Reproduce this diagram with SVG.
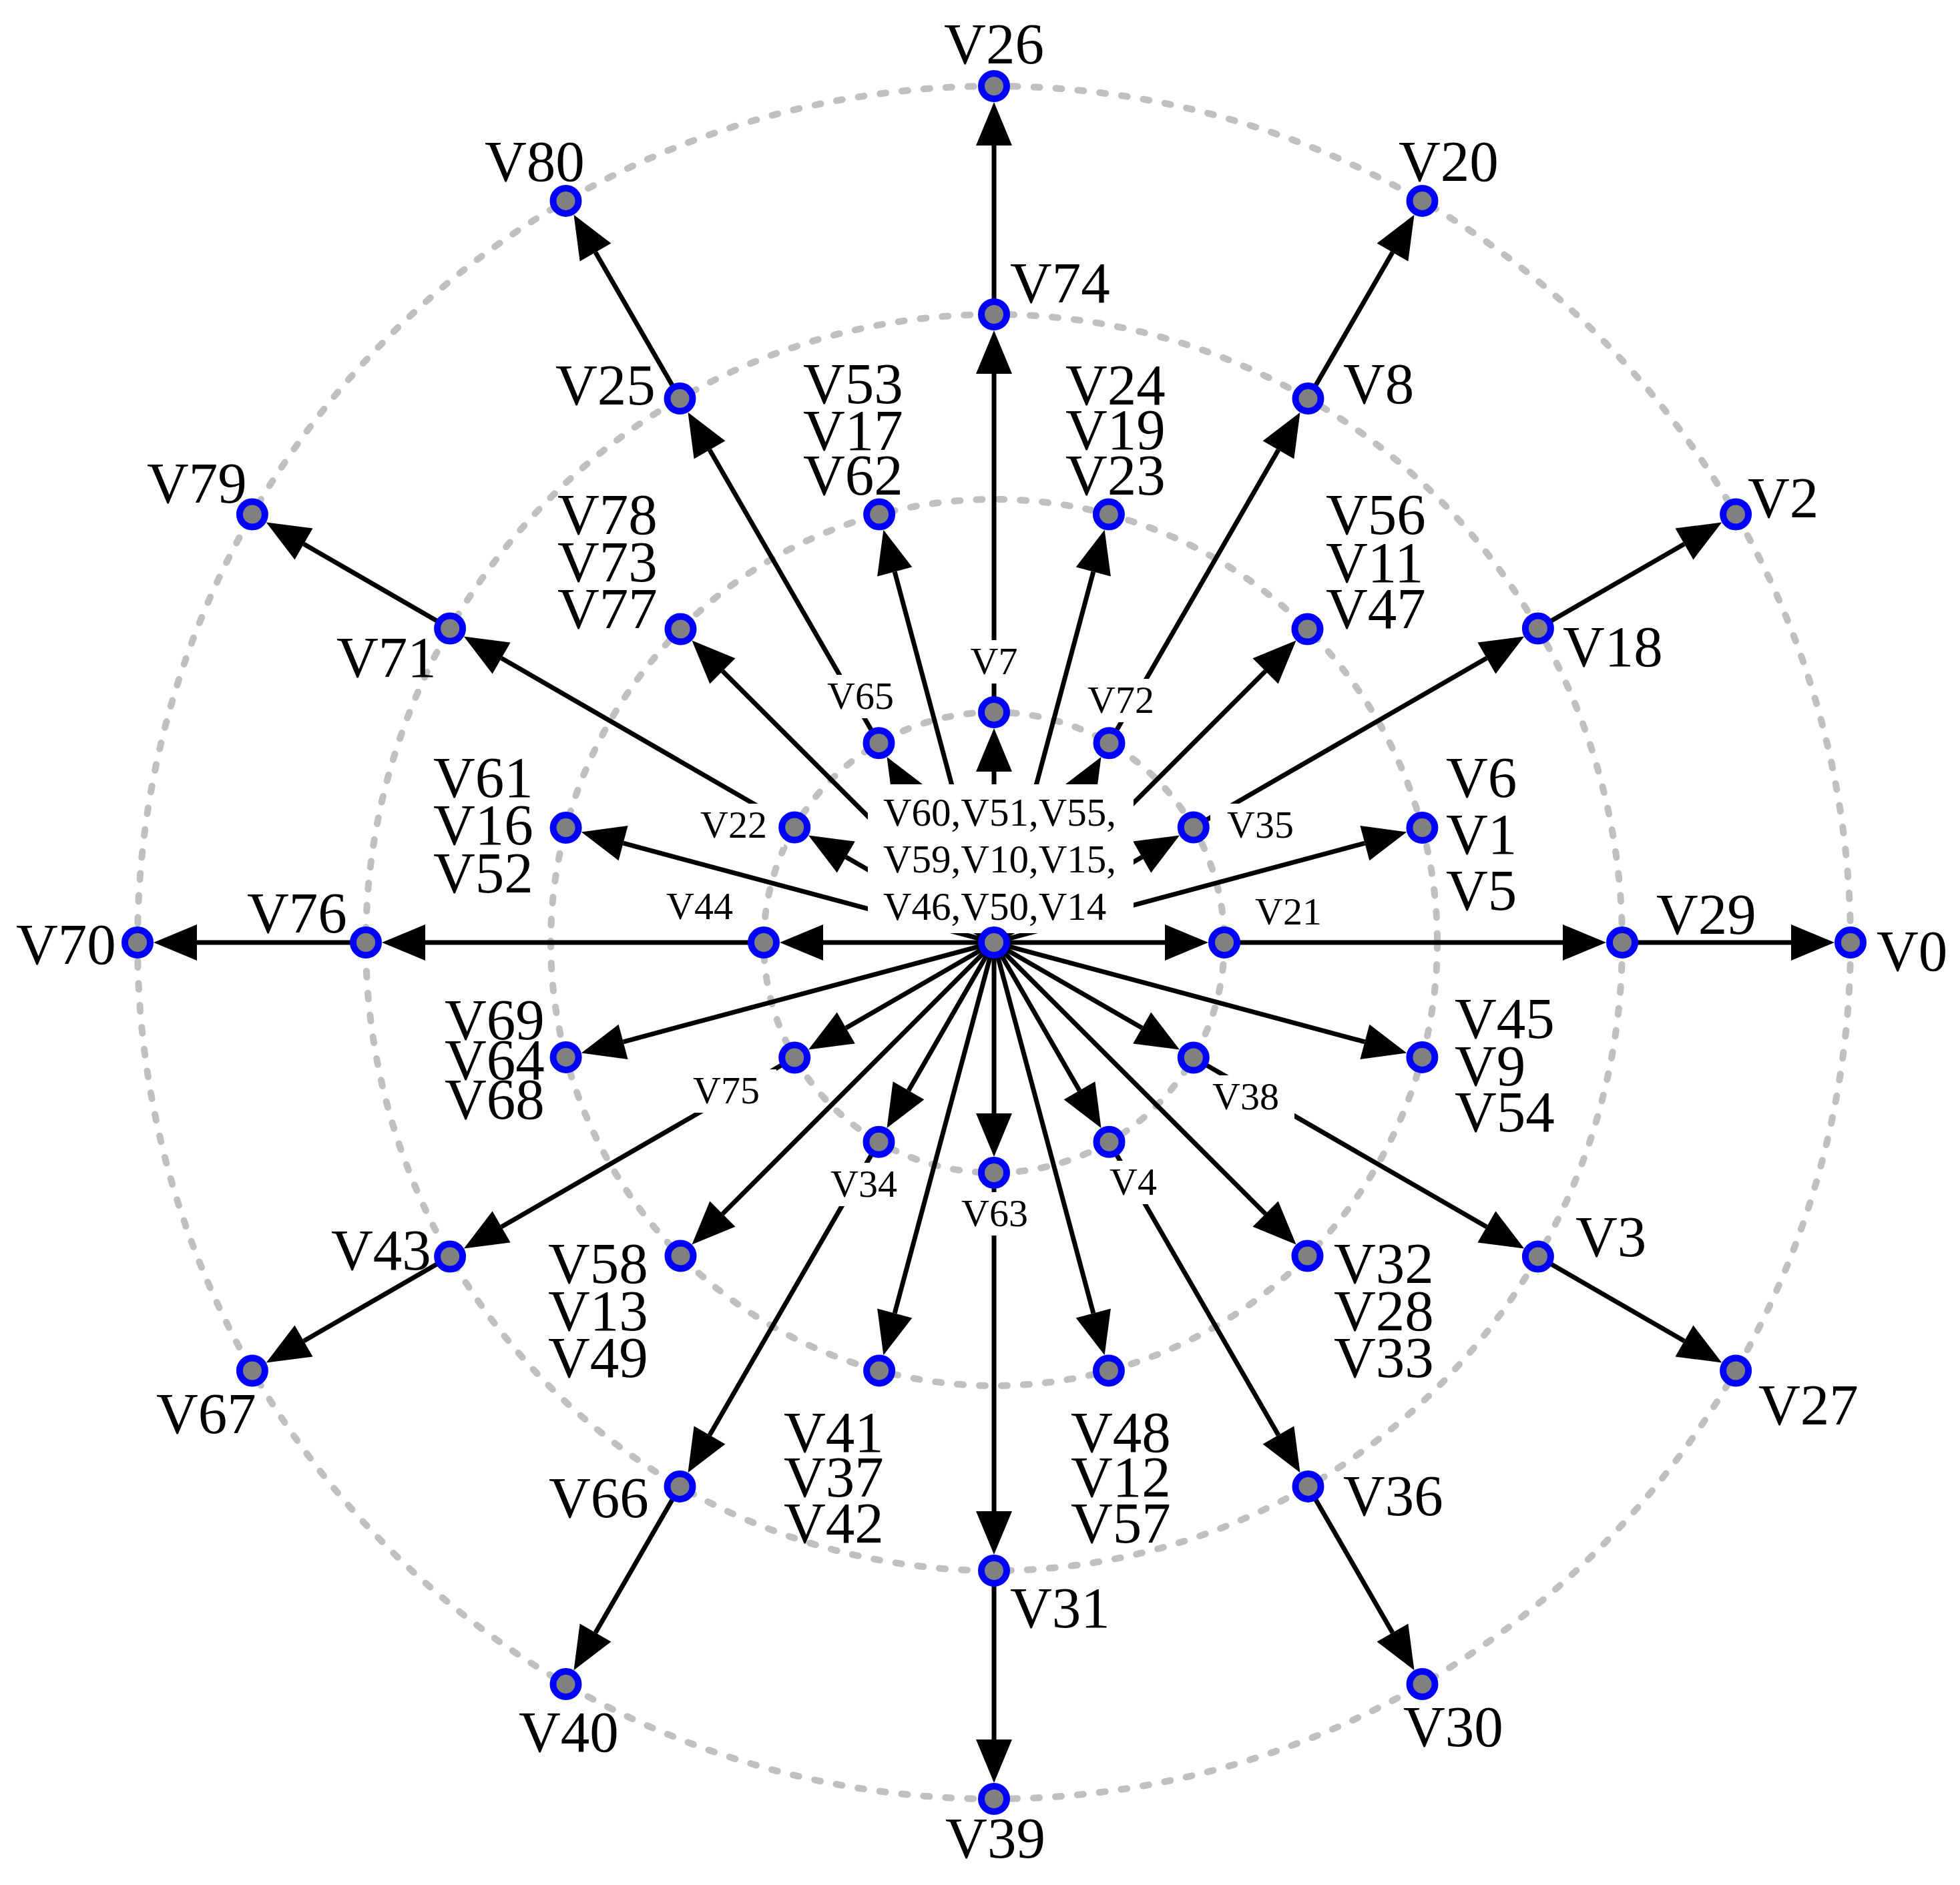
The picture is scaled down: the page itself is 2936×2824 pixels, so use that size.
<svg xmlns="http://www.w3.org/2000/svg" width="2936" height="2824" viewBox="0 0 2936 2824">
<style>
.ring{fill:none;stroke:#c0c0c0;stroke-width:10;stroke-dasharray:9 24;stroke-linecap:round}
.e{stroke:#000;stroke-width:7;fill:none;marker-end:url(#ah)}
.n{fill:#808080;stroke:#0000ff;stroke-width:10}
.bg{fill:#fff}
text{font-family:"Liberation Serif","Times New Roman",serif;fill:#000}
.L{font-size:87px}
.S{font-size:58px}
.C{font-size:59px}
</style>
<defs>
<marker id="ah" markerUnits="userSpaceOnUse" viewBox="0 0 65 54" markerWidth="65" markerHeight="54" refX="0" refY="27" orient="auto" overflow="visible"><path d="M0,0L65,27L0,54z" fill="#000"/></marker>
</defs>
<rect width="2936" height="2824" fill="#fff"/>
<g id="rings">
<circle class="ring" cx="1489" cy="1412" r="345"/>
<circle class="ring" cx="1489" cy="1412" r="664"/>
<circle class="ring" cx="1489" cy="1412" r="941"/>
<circle class="ring" cx="1489" cy="1412" r="1283"/>
</g>
<g id="connectors">
<line class="e" x1="1489" y1="1412" x2="1745" y2="1412"/>
<line class="e" x1="1489" y1="1412" x2="1710.7" y2="1284"/>
<line class="e" x1="1489" y1="1412" x2="1617" y2="1190.3"/>
<line class="e" x1="1489" y1="1412" x2="1489" y2="1156"/>
<line class="e" x1="1489" y1="1412" x2="1361" y2="1190.3"/>
<line class="e" x1="1489" y1="1412" x2="1267.3" y2="1284"/>
<line class="e" x1="1489" y1="1412" x2="1233" y2="1412"/>
<line class="e" x1="1489" y1="1412" x2="1267.3" y2="1540"/>
<line class="e" x1="1489" y1="1412" x2="1361" y2="1633.7"/>
<line class="e" x1="1489" y1="1412" x2="1489" y2="1668"/>
<line class="e" x1="1489" y1="1412" x2="1617" y2="1633.7"/>
<line class="e" x1="1489" y1="1412" x2="1710.7" y2="1540"/>
<line class="e" x1="1489" y1="1412" x2="2044.4" y2="1263.2"/>
<line class="e" x1="1489" y1="1412" x2="1895.6" y2="1005.4"/>
<line class="e" x1="1489" y1="1412" x2="1637.8" y2="856.6"/>
<line class="e" x1="1489" y1="1412" x2="1340.2" y2="856.6"/>
<line class="e" x1="1489" y1="1412" x2="1082.4" y2="1005.4"/>
<line class="e" x1="1489" y1="1412" x2="933.6" y2="1263.2"/>
<line class="e" x1="1489" y1="1412" x2="933.6" y2="1560.8"/>
<line class="e" x1="1489" y1="1412" x2="1082.4" y2="1818.6"/>
<line class="e" x1="1489" y1="1412" x2="1340.2" y2="1967.4"/>
<line class="e" x1="1489" y1="1412" x2="1637.8" y2="1967.4"/>
<line class="e" x1="1489" y1="1412" x2="1895.6" y2="1818.6"/>
<line class="e" x1="1489" y1="1412" x2="2044.4" y2="1560.8"/>
<line class="e" x1="1834" y1="1412" x2="2341" y2="1412"/>
<line class="e" x1="1787.8" y1="1239.5" x2="2226.9" y2="986"/>
<line class="e" x1="1661.5" y1="1113.2" x2="1915" y2="674.1"/>
<line class="e" x1="1489" y1="1067" x2="1489" y2="560"/>
<line class="e" x1="1316.5" y1="1113.2" x2="1063" y2="674.1"/>
<line class="e" x1="1190.2" y1="1239.5" x2="751.1" y2="986"/>
<line class="e" x1="1144" y1="1412" x2="637" y2="1412"/>
<line class="e" x1="1190.2" y1="1584.5" x2="751.1" y2="1838"/>
<line class="e" x1="1316.5" y1="1710.8" x2="1063" y2="2149.9"/>
<line class="e" x1="1489" y1="1757" x2="1489" y2="2264"/>
<line class="e" x1="1661.5" y1="1710.8" x2="1915" y2="2149.9"/>
<line class="e" x1="1787.8" y1="1584.5" x2="2226.9" y2="1838"/>
<line class="e" x1="2430" y1="1412" x2="2683" y2="1412"/>
<line class="e" x1="2303.9" y1="941.5" x2="2523" y2="815"/>
<line class="e" x1="1959.5" y1="597.1" x2="2086" y2="378"/>
<line class="e" x1="1489" y1="471" x2="1489" y2="218"/>
<line class="e" x1="1018.5" y1="597.1" x2="892" y2="378"/>
<line class="e" x1="674.1" y1="941.5" x2="455" y2="815"/>
<line class="e" x1="548" y1="1412" x2="295" y2="1412"/>
<line class="e" x1="674.1" y1="1882.5" x2="455" y2="2009"/>
<line class="e" x1="1018.5" y1="2226.9" x2="892" y2="2446"/>
<line class="e" x1="1489" y1="2353" x2="1489" y2="2606"/>
<line class="e" x1="1959.5" y1="2226.9" x2="2086" y2="2446"/>
<line class="e" x1="2303.9" y1="1882.5" x2="2523" y2="2009"/>
</g>
<g id="node-center">
<rect class="bg" x="1300" y="1175" width="398" height="223"/>
<circle class="n" cx="1489" cy="1412" r="19"/>
<text class="C" x="1323" y="1237">V60,V51,V55,<tspan x="1323" y="1307">V59,V10,V15,</tspan><tspan x="1323" y="1378">V46,V50,V14</tspan></text>
</g>
<g id="node-V21"><rect class="bg" x="1855" y="1334" width="150" height="65"/><circle class="n" cx="1834" cy="1412" r="19"/><text class="S" x="1880" y="1385">V21</text></g>
<g id="node-V35"><rect class="bg" x="1813" y="1204" width="150" height="65"/><circle class="n" cx="1787.8" cy="1239.5" r="19"/><text class="S" x="1838" y="1255">V35</text></g>
<g id="node-V72"><rect class="bg" x="1604" y="1017" width="150" height="65"/><circle class="n" cx="1661.5" cy="1113.2" r="19"/><text class="S" x="1629" y="1068">V72</text></g>
<g id="node-V7"><rect class="bg" x="1428" y="959" width="122" height="65"/><circle class="n" cx="1489" cy="1067" r="19"/><text class="S" x="1489" y="1010" text-anchor="middle">V7</text></g>
<g id="node-V65"><rect class="bg" x="1214" y="1011" width="150" height="65"/><circle class="n" cx="1316.5" cy="1113.2" r="19"/><text class="S" x="1239" y="1062">V65</text></g>
<g id="node-V22"><rect class="bg" x="1024" y="1204" width="150" height="65"/><circle class="n" cx="1190.2" cy="1239.5" r="19"/><text class="S" x="1049" y="1255">V22</text></g>
<g id="node-V44"><rect class="bg" x="973" y="1326" width="150" height="65"/><circle class="n" cx="1144" cy="1412" r="19"/><text class="S" x="998" y="1377">V44</text></g>
<g id="node-V75"><rect class="bg" x="1013" y="1602" width="150" height="65"/><circle class="n" cx="1190.2" cy="1584.5" r="19"/><text class="S" x="1038" y="1653">V75</text></g>
<g id="node-V34"><rect class="bg" x="1219" y="1742" width="150" height="65"/><circle class="n" cx="1316.5" cy="1710.8" r="19"/><text class="S" x="1244" y="1793">V34</text></g>
<g id="node-V63"><rect class="bg" x="1415" y="1786" width="148" height="65"/><circle class="n" cx="1489" cy="1757" r="19"/><text class="S" x="1440" y="1837">V63</text></g>
<g id="node-V4"><rect class="bg" x="1637" y="1739" width="121" height="65"/><circle class="n" cx="1661.5" cy="1710.8" r="19"/><text class="S" x="1662" y="1790">V4</text></g>
<g id="node-V38"><rect class="bg" x="1791" y="1611" width="148" height="65"/><circle class="n" cx="1787.8" cy="1584.5" r="19"/><text class="S" x="1816" y="1662">V38</text></g>
<g id="node-V6-V1-V5"><circle class="n" cx="2130.4" cy="1240.1" r="19"/><text class="L" x="2166" y="1194">V6<tspan x="2166" y="1279">V1</tspan><tspan x="2166" y="1363">V5</tspan></text></g>
<g id="node-V56-V11-V47"><circle class="n" cx="1958.5" cy="942.5" r="19"/><text class="L" x="1986" y="800">V56<tspan x="1986" y="872">V11</tspan><tspan x="1986" y="941">V47</tspan></text></g>
<g id="node-V24-V19-V23"><circle class="n" cx="1660.9" cy="770.6" r="19"/><text class="L" x="1596" y="606">V24<tspan x="1596" y="673">V19</tspan><tspan x="1596" y="741">V23</tspan></text></g>
<g id="node-V53-V17-V62"><circle class="n" cx="1317.1" cy="770.6" r="19"/><text class="L" x="1203" y="604">V53<tspan x="1203" y="674">V17</tspan><tspan x="1203" y="741">V62</tspan></text></g>
<g id="node-V78-V73-V77"><circle class="n" cx="1019.5" cy="942.5" r="19"/><text class="L" x="835" y="800">V78<tspan x="835" y="871">V73</tspan><tspan x="835" y="941">V77</tspan></text></g>
<g id="node-V61-V16-V52"><circle class="n" cx="847.6" cy="1240.1" r="19"/><text class="L" x="649" y="1194">V61<tspan x="649" y="1265">V16</tspan><tspan x="649" y="1337">V52</tspan></text></g>
<g id="node-V69-V64-V68"><circle class="n" cx="847.6" cy="1583.9" r="19"/><text class="L" x="666" y="1557">V69<tspan x="666" y="1617">V64</tspan><tspan x="666" y="1676">V68</tspan></text></g>
<g id="node-V58-V13-V49"><circle class="n" cx="1019.5" cy="1881.5" r="19"/><text class="L" x="821" y="1922">V58<tspan x="821" y="1993">V13</tspan><tspan x="821" y="2063">V49</tspan></text></g>
<g id="node-V41-V37-V42"><circle class="n" cx="1317.1" cy="2053.4" r="19"/><text class="L" x="1174" y="2175">V41<tspan x="1174" y="2242">V37</tspan><tspan x="1174" y="2311">V42</tspan></text></g>
<g id="node-V48-V12-V57"><circle class="n" cx="1660.9" cy="2053.4" r="19"/><text class="L" x="1604" y="2175">V48<tspan x="1604" y="2242">V12</tspan><tspan x="1604" y="2311">V57</tspan></text></g>
<g id="node-V32-V28-V33"><circle class="n" cx="1958.5" cy="1881.5" r="19"/><text class="L" x="1998" y="1922">V32<tspan x="1998" y="1993">V28</tspan><tspan x="1998" y="2063">V33</tspan></text></g>
<g id="node-V45-V9-V54"><circle class="n" cx="2130.4" cy="1583.9" r="19"/><text class="L" x="2179" y="1555">V45<tspan x="2179" y="1626">V9</tspan><tspan x="2179" y="1695">V54</tspan></text></g>
<g id="node-V29"><circle class="n" cx="2430" cy="1412" r="19"/><text class="L" x="2481" y="1399">V29</text></g>
<g id="node-V18"><circle class="n" cx="2303.9" cy="941.5" r="19"/><text class="L" x="2341" y="998">V18</text></g>
<g id="node-V8"><circle class="n" cx="1959.5" cy="597.1" r="19"/><text class="L" x="2012" y="604">V8</text></g>
<g id="node-V74"><circle class="n" cx="1489" cy="471" r="19"/><text class="L" x="1513" y="453">V74</text></g>
<g id="node-V25"><circle class="n" cx="1018.5" cy="597.1" r="19"/><text class="L" x="832" y="606">V25</text></g>
<g id="node-V71"><circle class="n" cx="674.1" cy="941.5" r="19"/><text class="L" x="504" y="1014">V71</text></g>
<g id="node-V76"><circle class="n" cx="548" cy="1412" r="19"/><text class="L" x="370" y="1397">V76</text></g>
<g id="node-V43"><circle class="n" cx="674.1" cy="1882.5" r="19"/><text class="L" x="496" y="1902">V43</text></g>
<g id="node-V66"><circle class="n" cx="1018.5" cy="2226.9" r="19"/><text class="L" x="822" y="2273">V66</text></g>
<g id="node-V31"><circle class="n" cx="1489" cy="2353" r="19"/><text class="L" x="1513" y="2438">V31</text></g>
<g id="node-V36"><circle class="n" cx="1959.5" cy="2226.9" r="19"/><text class="L" x="2012" y="2270">V36</text></g>
<g id="node-V3"><circle class="n" cx="2303.9" cy="1882.5" r="19"/><text class="L" x="2360" y="1882">V3</text></g>
<g id="node-V0"><circle class="n" cx="2772" cy="1412" r="19"/><text class="L" x="2811" y="1454">V0</text></g>
<g id="node-V2"><circle class="n" cx="2600.1" cy="770.5" r="19"/><text class="L" x="2618" y="775">V2</text></g>
<g id="node-V20"><circle class="n" cx="2130.5" cy="300.9" r="19"/><text class="L" x="2095" y="271">V20</text></g>
<g id="node-V26"><circle class="n" cx="1489" cy="129" r="19"/><text class="L" x="1489" y="95" text-anchor="middle">V26</text></g>
<g id="node-V80"><circle class="n" cx="847.5" cy="300.9" r="19"/><text class="L" x="726" y="271">V80</text></g>
<g id="node-V79"><circle class="n" cx="377.9" cy="770.5" r="19"/><text class="L" x="220" y="753">V79</text></g>
<g id="node-V70"><circle class="n" cx="206" cy="1412" r="19"/><text class="L" x="24" y="1444">V70</text></g>
<g id="node-V67"><circle class="n" cx="377.9" cy="2053.5" r="19"/><text class="L" x="234" y="2147">V67</text></g>
<g id="node-V40"><circle class="n" cx="847.5" cy="2523.1" r="19"/><text class="L" x="777" y="2624">V40</text></g>
<g id="node-V39"><circle class="n" cx="1489" cy="2695" r="19"/><text class="L" x="1491" y="2783" text-anchor="middle">V39</text></g>
<g id="node-V30"><circle class="n" cx="2130.5" cy="2523.1" r="19"/><text class="L" x="2102" y="2616">V30</text></g>
<g id="node-V27"><circle class="n" cx="2600.1" cy="2053.5" r="19"/><text class="L" x="2634" y="2134">V27</text></g>
</svg>
